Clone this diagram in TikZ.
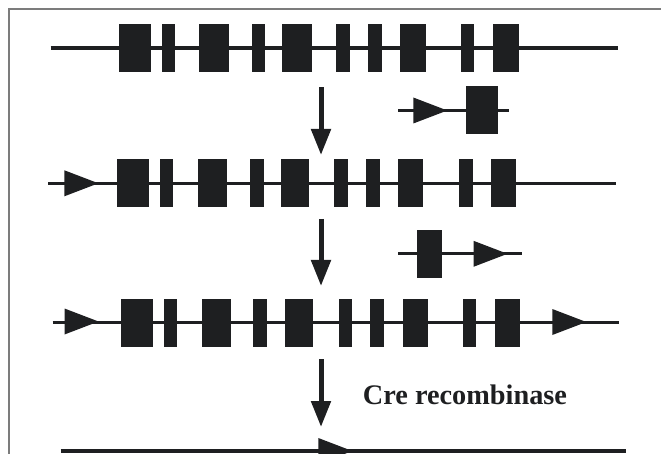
\documentclass[tikz,border=0pt]{standalone}
\usepackage{fontspec}
\setmainfont{Liberation Serif}
\usetikzlibrary{arrows.meta}
\definecolor{ink}{HTML}{1E1F21}
\definecolor{framegray}{HTML}{7C7C7C}
\tikzset{
  exon/.style={rectangle, fill=ink, draw=none, inner sep=0pt, outer sep=0pt, minimum height=48pt},
  strand/.style={draw=ink, line width=3.3pt},
  step arrow/.style={draw=ink, line width=5pt, -{Triangle[length=26pt,width=19pt]}},
  loxp/.pic={\fill[ink] (0,-13) -- (34,0) -- (0,13) -- cycle;},
  label text/.style={font=\bfseries\fontsize{28.3}{30}\selectfont, text=ink, inner sep=0pt, anchor=base west}
}
\begin{document}
\begin{tikzpicture}[x=1pt, y=-1pt]
\useasboundingbox (0,0) rectangle (661,454);
\clip (0,0) rectangle (661,454);
% outer frame
\draw[framegray, line width=2pt] (8.5,470) -- (8.5,9.5) -- (680,9.5);

% row 1: wild-type locus
\coordinate (r1w) at (50.6,48);
\coordinate (r1e) at (617.5,48);
\draw[strand] (r1w) -- (r1e);
\foreach \a/\b [count=\i] in {118.9/150.9, 161.5/175.0, 199.4/228.9, 251.7/264.8, 282.0/311.6, 336.0/349.9, 368.0/381.5, 400.1/425.8, 460.8/473.9, 492.8/518.6}{
  \pgfmathsetmacro{\w}{\b-\a}
  \node[exon, minimum width=\w pt] (ra-\i) at ({(\a+\b)/2},48) {};
}

% targeting fragment 1
\coordinate (t1w) at (398.3,110.5);
\coordinate (t1e) at (509.3,110.5);
\draw[strand] (t1w) -- (t1e);
\pic at (413.3,110.5) {loxp};
\node[exon, minimum width=32.3pt] (t1x) at (482.2,110.2) {};

% row 2: first loxP inserted
\coordinate (r2w) at (48.3,183.3);
\coordinate (r2e) at (615.5,183.3);
\draw[strand] (r2w) -- (r2e);
\pic at (64.4,183.3) {loxp};
\foreach \a/\b [count=\i] in {117.2/149.2, 160.2/173.3, 198.1/226.8, 250.0/263.5, 280.8/309.0, 334.3/348.2, 366.4/379.9, 398.4/423.3, 459.1/472.6, 491.1/516.4}{
  \pgfmathsetmacro{\w}{\b-\a}
  \node[exon, minimum width=\w pt] (rb-\i) at ({(\a+\b)/2},183.5) {};
}

% targeting fragment 2
\coordinate (t2w) at (398.3,253.3);
\coordinate (t2e) at (521.7,253.3);
\draw[strand] (t2w) -- (t2e);
\node[exon, minimum width=25pt] (t2x) at (429.2,254.5) {};
\pic at (473.5,253.8) {loxp};

% row 3: floxed locus
\coordinate (r3w) at (52.7,322.3);
\coordinate (r3e) at (618.9,322.3);
\draw[strand] (r3w) -- (r3e);
\pic at (64.5,321.5) {loxp};
\pic at (552.3,322) {loxp};
\foreach \a/\b [count=\i] in {120.6/152.6, 163.6/177.1, 201.9/230.6, 253.4/266.9, 284.6/312.8, 338.5/352.0, 370.2/383.6, 402.6/427.5, 462.9/476.4, 494.9/520.2}{
  \pgfmathsetmacro{\w}{\b-\a}
  \node[exon, minimum width=\w pt] (rc-\i) at ({(\a+\b)/2},322.5) {};
}

% row 4: after excision
\coordinate (r4w) at (60.5,451);
\coordinate (r4e) at (626,451);
\draw[strand] (r4w) -- (r4e);
\pic at (318.3,451) {loxp};

% step arrows
\coordinate (s1a) at (321,87.3);  \coordinate (s1b) at (321,155);
\coordinate (s2a) at (321,219);   \coordinate (s2b) at (321,286);
\coordinate (s3a) at (321,359);   \coordinate (s3b) at (321,427);
\draw[step arrow] (s1a) -- (s1b);
\draw[step arrow] (s2a) -- (s2b);
\draw[step arrow] (s3a) -- (s3b);

\node[label text] (cre) at (362.7,404.3) {Cre recombinase};
\end{tikzpicture}
\end{document}
